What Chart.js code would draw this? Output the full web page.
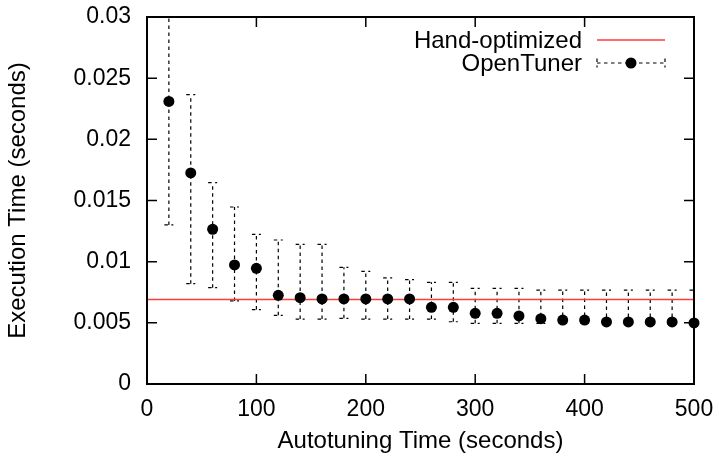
<!DOCTYPE html>
<html>
<head>
<meta charset="utf-8">
<script src="https://cdn.jsdelivr.net/npm/chart.js@4"></script>
<style>
  html, body { margin: 0; padding: 0; background: #fff; }
  #wrap { width: 719px; height: 456px; }
</style>
</head>
<body>
<div id="wrap"><canvas id="chart"></canvas></div>
<script>
const tuningTimes = [20, 40, 60, 80, 100, 120, 140, 160, 180, 200, 220, 240, 260,
  280, 300, 320, 340, 360, 380, 400, 420, 440, 460, 480, 500];
const execTimes = [0.0231, 0.01725, 0.01265, 0.00973, 0.00946, 0.00725, 0.00706,
  0.00695, 0.00695, 0.00695, 0.00695, 0.00695, 0.00627, 0.00627, 0.00578, 0.00578,
  0.00556, 0.00534, 0.00523, 0.00523, 0.00507, 0.00507, 0.00507, 0.00507, 0.00499];
const errLow = [0.0130, 0.0082, 0.00787, 0.00679, 0.00608, 0.00561, 0.00531,
  0.00531, 0.00537, 0.00531, 0.00531, 0.00531, 0.00531, 0.00509, 0.00496, 0.00496,
  0.00496, 0.00496, 0.00499, 0.00499, 0.0049, 0.0049, 0.0049, 0.0049, 0.0049];
const errHigh = [0.034, 0.02365, 0.01646, 0.01447, 0.01223, 0.01177, 0.01142,
  0.01142, 0.00954, 0.00921, 0.00867, 0.00853, 0.00831, 0.00831, 0.00782, 0.00782,
  0.00782, 0.00768, 0.00768, 0.00768, 0.00768, 0.00768, 0.00768, 0.00768, 0.00768];
const handX = [0, 500];
const handY = [0.0069, 0.0069];
const legendLabels = ["Hand-optimized", "OpenTuner"];

const FONT = "Liberation Sans, Arial, Helvetica, sans-serif";
const RED = "rgb(255, 60, 60)";

// dashed error bars with dashed caps, drawn under the points
const errorBars = {
  id: "errorBars",
  beforeDatasetsDraw(chart) {
    const { ctx, chartArea, scales } = chart;
    ctx.save();
    ctx.beginPath();
    ctx.rect(chartArea.left, chartArea.top, chartArea.right - chartArea.left, chartArea.bottom - chartArea.top);
    ctx.clip();
    ctx.strokeStyle = "#000";
    ctx.lineWidth = 1.2;
    ctx.setLineDash([3.5, 3.5]);
    for (let i = 0; i < tuningTimes.length; i++) {
      const x = scales.x.getPixelForValue(tuningTimes[i]);
      const yLo = scales.y.getPixelForValue(errLow[i]);
      const yHi = scales.y.getPixelForValue(errHigh[i]);
      ctx.beginPath();
      ctx.moveTo(x, yLo);
      ctx.lineTo(x, yHi);
      ctx.moveTo(x - 4.5, yLo);
      ctx.lineTo(x + 4.5, yLo);
      ctx.moveTo(x - 4.5, yHi);
      ctx.lineTo(x + 4.5, yHi);
      ctx.stroke();
    }
    ctx.restore();
  }
};

// gnuplot style frame, inward ticks on all four sides, and the key
const frame = {
  id: "frame",
  afterDraw(chart) {
    const { ctx, chartArea, scales } = chart;
    const { left, right, top, bottom } = chartArea;
    ctx.save();
    ctx.strokeStyle = "#000";
    ctx.lineWidth = 1.5;
    ctx.beginPath();
    scales.x.ticks.forEach(t => {
      const x = scales.x.getPixelForValue(t.value);
      ctx.moveTo(x, bottom);
      ctx.lineTo(x, bottom - 10);
      ctx.moveTo(x, top);
      ctx.lineTo(x, top + 10);
    });
    scales.y.ticks.forEach(t => {
      const y = scales.y.getPixelForValue(t.value);
      ctx.moveTo(left, y);
      ctx.lineTo(left + 10, y);
      ctx.moveTo(right, y);
      ctx.lineTo(right - 10, y);
    });
    ctx.stroke();
    ctx.lineWidth = 2;
    ctx.strokeRect(left, top, right - left, bottom - top);

    // key
    ctx.font = "24px " + FONT;
    ctx.fillStyle = "#000";
    ctx.textAlign = "right";
    ctx.textBaseline = "middle";
    const textX = 582, x0 = 597, x1 = 665;
    const rows = [41, 64];
    ctx.fillText(legendLabels[0], textX, rows[0]);
    ctx.fillText(legendLabels[1], textX, rows[1]);
    ctx.strokeStyle = RED;
    ctx.lineWidth = 1.5;
    ctx.beginPath();
    ctx.moveTo(x0, 40);
    ctx.lineTo(x1, 40);
    ctx.stroke();
    ctx.strokeStyle = "#000";
    ctx.lineWidth = 1.2;
    ctx.setLineDash([3.5, 3.5]);
    ctx.beginPath();
    ctx.moveTo(x0, 63);
    ctx.lineTo(x1, 63);
    ctx.moveTo(x0, 63 - 4.5);
    ctx.lineTo(x0, 63 + 4.5);
    ctx.moveTo(x1, 63 - 4.5);
    ctx.lineTo(x1, 63 + 4.5);
    ctx.stroke();
    ctx.setLineDash([]);
    ctx.beginPath();
    ctx.arc((x0 + x1) / 2, 63, 5.5, 0, Math.PI * 2);
    ctx.fill();
    ctx.restore();
  }
};

const ctx = document.getElementById("chart").getContext("2d");
new Chart(ctx, {
  type: "scatter",
  data: {
    datasets: [
      {
        label: legendLabels[1],
        data: tuningTimes.map((x, i) => ({ x: x, y: execTimes[i] })),
        showLine: false,
        pointRadius: 5.5,
        pointHoverRadius: 5.5,
        pointBackgroundColor: "#000",
        pointBorderWidth: 0,
        order: 0,
        clip: false
      },
      {
        label: legendLabels[0],
        data: handX.map((x, i) => ({ x: x, y: handY[i] })),
        showLine: true,
        borderColor: RED,
        borderWidth: 1.5,
        pointRadius: 0,
        order: 1
      }
    ]
  },
  options: {
    responsive: true,
    maintainAspectRatio: false,
    animation: false,
    layout: { padding: { top: 17, right: 25, left: 0, bottom: 0 } },
    plugins: {
      legend: { display: false },
      tooltip: { enabled: false }
    },
    scales: {
      x: {
        type: "linear",
        min: 0,
        max: 500,
        grid: { display: false, drawTicks: false },
        border: { display: false },
        ticks: {
          stepSize: 100,
          padding: 12,
          color: "#000",
          font: { family: FONT, size: 23 }
        },
        title: {
          display: true,
          text: "Autotuning Time (seconds)",
          color: "#000",
          font: { family: FONT, size: 24 },
          padding: { top: 0, bottom: 0 }
        },
        afterFit(scale) {
          scale.height = 72;
          scale.paddingLeft = 0;
          scale.paddingRight = 0;
        }
      },
      y: {
        type: "linear",
        min: 0,
        max: 0.03,
        grid: { display: false, drawTicks: false },
        border: { display: false },
        ticks: {
          stepSize: 0.005,
          padding: 16,
          color: "#000",
          font: { family: FONT, size: 23 },
          callback: v => String(+v.toFixed(3))
        },
        title: {
          display: true,
          text: "Execution Time (seconds)",
          color: "#000",
          font: { family: FONT, size: 24 },
          padding: { top: 4, bottom: 4 }
        },
        afterFit(scale) {
          scale.width = 147;
          scale.paddingTop = 0;
          scale.paddingBottom = 0;
        }
      }
    }
  },
  plugins: [errorBars, frame]
});
</script>
</body>
</html>
